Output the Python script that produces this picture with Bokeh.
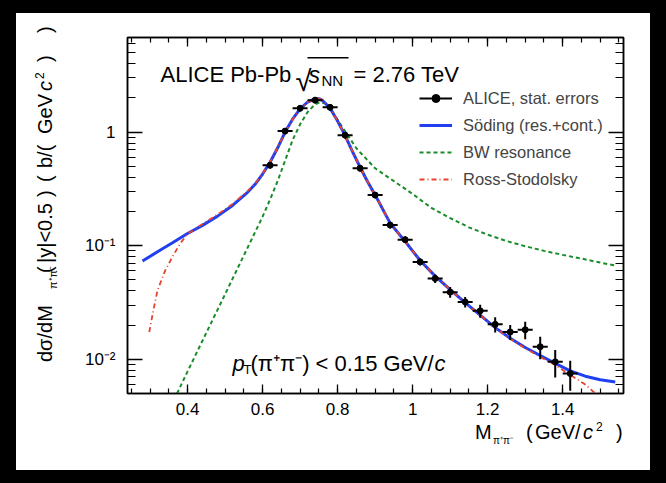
import math
from bokeh.plotting import figure
from bokeh.models import (FixedTicker, LinearAxis, LogAxis, Label, Legend, LegendItem,
                          BoxAnnotation, CustomJSTickFormatter, Div)
from bokeh.layouts import column, row
from bokeh.embed import file_html
from bokeh.resources import INLINE

# ---------------- data ----------------
mass = [0.62, 0.66, 0.70, 0.74, 0.78, 0.82, 0.86, 0.90, 0.94, 0.98, 1.02,
        1.06, 1.10, 1.14, 1.18, 1.22, 1.26, 1.30, 1.34, 1.38, 1.42]
xsec = [0.51, 1.02, 1.62, 1.91, 1.65, 0.94, 0.48, 0.279, 0.152, 0.113, 0.072,
        0.0514, 0.039, 0.032, 0.0267, 0.0203, 0.0174, 0.0182, 0.0129, 0.0095, 0.0075]
xsec_err = [0.032, 0.064, 0.10, 0.12, 0.10, 0.06, 0.030, 0.018, 0.010, 0.0075, 0.0052,
            0.0044, 0.0042, 0.0034, 0.0035, 0.0031, 0.0026, 0.0032, 0.0029, 0.0026, 0.0022]
bin_half = [0.02] * len(mass)

soding_x = [0.28, 0.32, 0.36, 0.40, 0.44, 0.48, 0.52, 0.56, 0.58, 0.60, 0.62, 0.64, 0.66, 0.68,
            0.70, 0.72, 0.74, 0.75, 0.76, 0.78, 0.80, 0.82, 0.84, 0.86, 0.88, 0.90, 0.94,
            0.98, 1.02, 1.06, 1.10, 1.14, 1.18, 1.22, 1.26, 1.30, 1.34, 1.38, 1.42, 1.46,
            1.50, 1.54]
soding_y = [0.0734, 0.0883, 0.106, 0.128, 0.151, 0.182, 0.226, 0.295, 0.347, 0.427, 0.543,
            0.724, 1.0, 1.3, 1.6, 1.84, 1.96, 1.97, 1.90, 1.62, 1.25, 0.93, 0.67, 0.49, 0.365,
            0.28, 0.158, 0.109, 0.074, 0.054, 0.041, 0.0315, 0.0245, 0.019, 0.0153, 0.0127,
            0.0108, 0.0092, 0.0079, 0.0071, 0.0066, 0.0063]

rs_x = [0.298, 0.31, 0.32, 0.34, 0.36, 0.38, 0.40, 0.44, 0.48, 0.52, 0.56, 0.58, 0.60, 0.62,
        0.64, 0.66, 0.68, 0.70, 0.72, 0.74, 0.75, 0.76, 0.78, 0.80, 0.82, 0.84, 0.86, 0.88,
        0.90, 0.94, 0.98, 1.02, 1.06, 1.10, 1.14, 1.18, 1.22, 1.26, 1.30, 1.34, 1.38, 1.42,
        1.46, 1.49]
rs_y = [0.0174, 0.028, 0.0405, 0.060, 0.080, 0.104, 0.127, 0.155, 0.188, 0.233, 0.302, 0.352,
        0.43, 0.543, 0.724, 1.0, 1.3, 1.6, 1.84, 1.96, 1.97, 1.90, 1.62, 1.25, 0.93, 0.67,
        0.49, 0.365, 0.28, 0.158, 0.109, 0.074, 0.054, 0.041, 0.0315, 0.0245, 0.019, 0.0152,
        0.0125, 0.0105, 0.0089, 0.0073, 0.0060, 0.0049]

bw_x = [0.372, 0.40, 0.45, 0.50, 0.55, 0.60, 0.62, 0.64, 0.66, 0.68, 0.70, 0.72, 0.74, 0.755,
        0.77, 0.78, 0.80, 0.85, 0.90, 0.95, 1.00, 1.05, 1.10, 1.15, 1.20, 1.25, 1.30, 1.35,
        1.40, 1.45, 1.50, 1.54]
bw_y = [0.005, 0.0078, 0.0171, 0.0373, 0.082, 0.18, 0.255, 0.37, 0.56, 0.85, 1.17, 1.5, 1.76,
        1.84, 1.78, 1.62, 1.28, 0.72, 0.48, 0.37, 0.285, 0.215, 0.175, 0.145, 0.125, 0.11,
        0.099, 0.09, 0.083, 0.077, 0.071, 0.067]

x_major = [0.4, 0.6, 0.8, 1.0, 1.2, 1.4]
x_labels = ["0.4", "0.6", "0.8", "1", "1.2", "1.4"]
y_major = [0.01, 0.1, 1.0]
y_labels = ["10\u207b\u00b2", "10\u207b\u00b9", "1"]

# ---------------- geometry (window pixels) ----------------
FONT = "Liberation Sans"
PX0, PY0, PX1, PY1 = 16, 13, 650, 470      # white panel
FL, FR, FT, FB = 127, 623, 37, 393         # plot frame
YDIV_W = 44                                # strip for the y title
XDIV_H = 50                                # strip for the x title
FIG_W = PX1 - PX0 - YDIV_W
FIG_H = PY1 - PY0 - XDIV_H
FIG_X0 = PX0 + YDIV_W

p = figure(width=FIG_W, height=FIG_H, x_range=(0.24, 1.562), y_range=(0.005, 6.8),
           y_axis_type="log", output_backend="svg", toolbar_location=None,
           min_border_left=FL - FIG_X0, min_border_right=PX1 - FR,
           min_border_top=FT - PY0, min_border_bottom=PY0 + FIG_H - FB)
p.margin = 0
p.border_fill_color = "white"
p.background_fill_color = "white"
p.outline_line_color = "black"
p.outline_line_width = 1.5
p.xgrid.visible = False
p.ygrid.visible = False

x_minor = [round(0.25 + 0.05 * i, 2) for i in range(27)]
y_minor = [k * 10.0 ** e for e in (-3, -2, -1, 0) for k in range(2, 10)]

xfmt = CustomJSTickFormatter(args=dict(tvals=x_major, tlabels=x_labels), code="""
const i = tvals.findIndex(t => Math.abs(t - tick) < 1e-6);
return i >= 0 ? tlabels[i] : "";""")
yfmt = CustomJSTickFormatter(args=dict(tvals=y_major, tlabels=y_labels), code="""
const i = tvals.findIndex(t => Math.abs(t - tick) < 1e-9 * Math.max(1, Math.abs(t)));
return i >= 0 ? tlabels[i] : "";""")


def style_axis(ax, major_len, minor_len, show_labels):
    ax.axis_line_color = "black"
    ax.axis_line_width = 1.5
    ax.major_tick_in = major_len
    ax.major_tick_out = 0
    ax.minor_tick_in = minor_len
    ax.minor_tick_out = 0
    ax.major_tick_line_color = "black"
    ax.minor_tick_line_color = "black"
    ax.major_tick_line_width = 1.3
    ax.minor_tick_line_width = 1.2
    ax.major_label_text_font = FONT
    ax.major_label_text_font_size = "17px"
    ax.major_label_text_color = "black" if show_labels else None
    ax.axis_label = None


xb = p.xaxis[0]
xb.ticker = FixedTicker(ticks=x_major, minor_ticks=x_minor)
xb.formatter = xfmt
style_axis(xb, 9, 5, True)
xb.major_label_standoff = 9

yl = p.yaxis[0]
yl.ticker = FixedTicker(ticks=y_major, minor_ticks=y_minor)
yl.formatter = yfmt
style_axis(yl, 15, 8, True)
yl.major_label_standoff = 12

xa = LinearAxis(ticker=FixedTicker(ticks=x_major, minor_ticks=x_minor), formatter=xfmt)
style_axis(xa, 9, 5, False)
p.add_layout(xa, "above")
yr = LogAxis(ticker=FixedTicker(ticks=y_major, minor_ticks=y_minor), formatter=yfmt)
style_axis(yr, 15, 8, False)
p.add_layout(yr, "right")

# ---------------- curves ----------------
BLUE = "#1f3ff0"
RED = "#e8412c"
GREEN = "#1a8c2a"

r_bw = p.line(bw_x, bw_y, line_color=GREEN, line_width=2, line_dash="4 3")
r_sod = p.line(soding_x, soding_y, line_color=BLUE, line_width=3)
r_rs = p.line(rs_x, rs_y, line_color=RED, line_width=1.8, line_dash="5 3 1 3")

# ---------------- data points ----------------
x_lo = [m - h for m, h in zip(mass, bin_half)]
x_hi = [m + h for m, h in zip(mass, bin_half)]
y_lo = [v - e for v, e in zip(xsec, xsec_err)]
y_hi = [v + e for v, e in zip(xsec, xsec_err)]
r_h = p.segment(x0=x_lo, y0=xsec, x1=x_hi, y1=xsec, line_color="black", line_width=2)
r_v = p.segment(x0=mass, y0=y_lo, x1=mass, y1=y_hi, line_color="black", line_width=2)
r_pt = p.scatter(mass, xsec, marker="circle", size=6, fill_color="black", line_color="black")

# ---------------- legend ----------------
legend = Legend(items=[
    LegendItem(label="ALICE, stat. errors", renderers=[r_h, r_pt]),
    LegendItem(label="S\u00f6ding (res.+cont.)", renderers=[r_sod]),
    LegendItem(label="BW resonance", renderers=[r_bw]),
    LegendItem(label="Ross-Stodolsky", renderers=[r_rs]),
], location=(419 - FL, FB - 189))
legend.label_text_font = FONT
legend.label_text_font_size = "16.5px"
legend.glyph_width = 33
legend.glyph_height = 20
legend.label_height = 20
legend.label_standoff = 11
legend.spacing = 7
legend.padding = 0
legend.margin = 0
legend.border_line_alpha = 0
legend.background_fill_alpha = 0
p.add_layout(legend)


# ---------------- texts inside the frame ----------------
def lab(X, Y, text, size, italic=False):
    p.add_layout(Label(x=X - FL, y=FB - Y, x_units="screen", y_units="screen", text=text,
                       text_font=FONT, text_font_size=f"{size}px",
                       text_font_style="italic" if italic else "normal",
                       text_baseline="alphabetic", text_align="left", text_color="black"))


lab(160, 74, "ALICE Pb-Pb", 22)
lab(295, 80, "\u221a", 29)
p.add_layout(BoxAnnotation(left=307 - FL, right=348 - FL, top=FB - 56.5, bottom=FB - 58,
                           left_units="screen", right_units="screen",
                           top_units="screen", bottom_units="screen",
                           fill_color="black", fill_alpha=1, line_alpha=0))
lab(308, 74, "s", 23, italic=True)
lab(321, 80, "NN", 15)
lab(353, 74, "= 2.76 TeV", 22)

lab(232, 363, "p", 22, italic=True)
lab(243, 369, "T", 13)
lab(250, 363, "(\u03c0\u207a\u03c0\u207b) < 0.15 GeV/", 22)
lab(434, 363, "c", 22, italic=True)


# ---------------- axis titles (HTML strips) ----------------
def piece(left, top, text, fs, italic=False):
    st = "font-style:italic;" if italic else ""
    return (f'<span style="position:absolute;left:{left:.1f}px;top:{top:.1f}px;'
            f'font-size:{fs}px;line-height:1;white-space:nowrap;{st}">{text}</span>')


def top_from_baseline(baseline, fs):
    return baseline - 0.8465 * fs


# x title: pieces given as (window x, window baseline, text, size, italic)
xt_pieces = [(475, 439, "M", 20, False), (493, 444, "\u03c0\u207a\u03c0\u207b", 10, False),
             (526, 439, "(", 20, False), (535, 439, "GeV/", 20, False),
             (583, 439, "c", 20, True), (596, 431, "2", 12, False), (616, 439, ")", 20, False)]
x_html = "".join(piece(x - PX0, top_from_baseline(b - (PY0 + FIG_H), fs), t, fs, it)
                 for x, b, t, fs, it in xt_pieces)
xdiv = Div(text=(f'<div style="position:relative;width:{PX1 - PX0}px;height:{XDIV_H}px;'
                 f'font-family:\'{FONT}\';color:black;">{x_html}</div>'),
           width=PX1 - PX0, height=XDIV_H, margin=0,
           styles={"background-color": "white"})

# y title: rotated; pieces given as (window y where the piece starts, window baseline x, ...)
Y_START, X_ORIGIN = 362, 30
yt_pieces = [(362, 52, "d\u03c3/dM", 20, False), (289, 57, "\u03c0\u207a\u03c0\u207b", 11, False),
             (273, 52, "(", 20, False), (263, 52, "|y|&lt;0.5", 20, False),
             (197, 52, ")", 20, False), (182, 52, "(", 20, False), (168, 52, "b/(", 20, False),
             (134, 52, "GeV", 20, False), (91, 52, "c", 20, True), (79, 44, "2", 12, False),
             (62, 52, ")", 20, False), (33, 52, ")", 20, False)]
y_html = "".join(piece(Y_START - ys, top_from_baseline(bx - X_ORIGIN, fs), t, fs, it)
                 for ys, bx, t, fs, it in yt_pieces)
ydiv = Div(text=(f'<div style="position:relative;width:{YDIV_W}px;height:{FIG_H}px;'
                 f'font-family:\'{FONT}\';color:black;">'
                 f'<div style="position:absolute;left:{X_ORIGIN - PX0}px;top:{Y_START - PY0}px;'
                 f'width:340px;height:30px;transform:rotate(-90deg);transform-origin:0 0;">'
                 f'{y_html}</div></div>'),
           width=YDIV_W, height=FIG_H, margin=0,
           styles={"background-color": "white"})

inner = column(row(ydiv, p, spacing=0, margin=0, styles={"background-color": "white"}),
               xdiv, spacing=0, margin=(PY0, 666 - PX1, 483 - PY1, PX0),
               styles={"background-color": "white"})
layout = column(inner, styles={"background-color": "black"})
open("out.html", "w").write(file_html(layout, INLINE))
